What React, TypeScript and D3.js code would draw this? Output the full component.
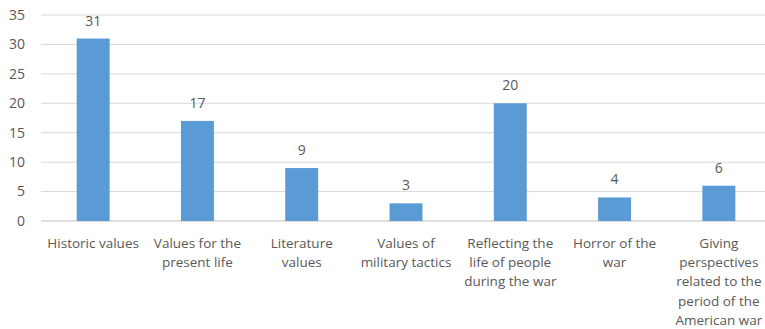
import React from "react";
import * as d3 from "d3";

const categories = [
  "Historic values",
  "Values for the|present life",
  "Literature|values",
  "Values of|military tactics",
  "Reflecting the|life of people|during the war",
  "Horror of the|war",
  "Giving|perspectives|related to the|period of the|American war",
];
const values = [31, 17, 9, 3, 20, 4, 6];
const yTicks = [0, 5, 10, 15, 20, 25, 30, 35];

const W = 765;
const H = 329;
const left = 41;
const right = 771;
const top = 15;
const bottom = 221;

export default function App() {
  const x = d3.scaleBand<number>().domain(d3.range(categories.length)).range([left, right]).paddingInner(0.684).paddingOuter(0.342);
  const y = d3.scaleLinear().domain([0, 35]).range([bottom, top]);
  const font = "'Open Sans', sans-serif";
  const color = "#595959";
  return (
    <svg width={W} height={H} style={{ position: "absolute", left: 0, top: 0, background: "#fff" }}>
      {yTicks.map((t) => (
        <g key={t}>
          <line x1={left} x2={right} y1={y(t)} y2={y(t)} stroke={t === 0 ? "#bfbfbf" : "#d9d9d9"} strokeWidth={1} />
          <text x={25} y={y(t)} dy="0.35em" textAnchor="end" fontFamily={font} fontSize={14} fill={color}>
            {t}
          </text>
        </g>
      ))}
      {values.map((v, i) => {
        const bx = x(i)!;
        const cx = bx + x.bandwidth() / 2;
        return (
          <g key={i}>
            <rect x={bx} y={y(v)} width={x.bandwidth()} height={y(0) - y(v)} fill="#5b9bd5" />
            <text x={cx} y={y(v) - 13} textAnchor="middle" fontFamily={font} fontSize={14} fill={color}>
              {v}
            </text>
          </g>
        );
      })}
      {categories.map((c, i) => {
        const cx = x(i)! + x.bandwidth() / 2;
        return (
          <text key={i} textAnchor="middle" fontFamily={font} fontSize={13.5} fill={color}>
            {c.split("|").map((line, j) => (
              <tspan key={j} x={cx} y={248 + j * 19.2}>
                {line}
              </tspan>
            ))}
          </text>
        );
      })}
    </svg>
  );
}
